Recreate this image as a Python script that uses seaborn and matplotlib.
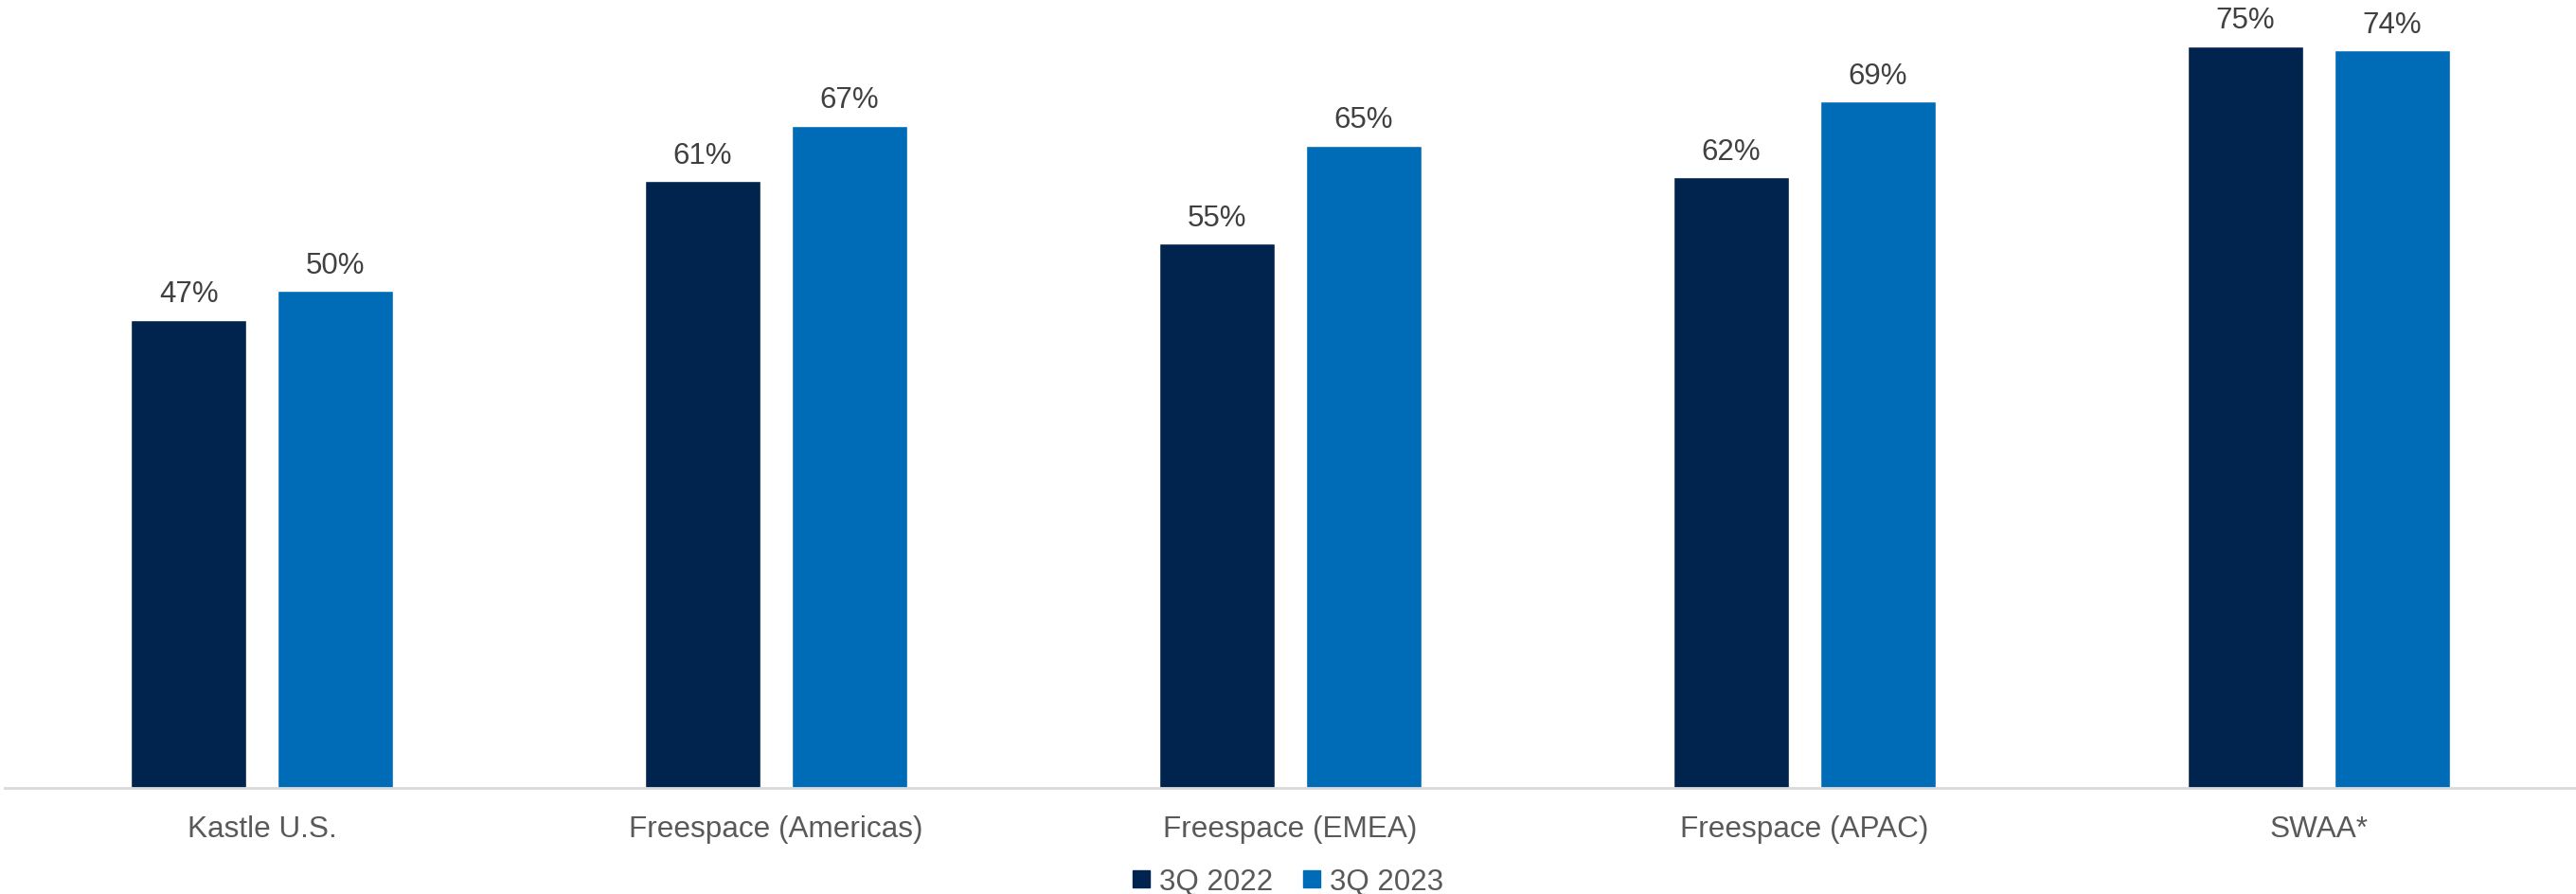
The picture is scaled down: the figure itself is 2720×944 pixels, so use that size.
import pandas as pd
import matplotlib
matplotlib.use("Agg")
import matplotlib.pyplot as plt
import seaborn as sns
from matplotlib.lines import Line2D

sns.set_theme(style='white')
plt.rcParams['font.family'] = ['Liberation Sans', 'DejaVu Sans']

categories = ["Kastle U.S.", "Freespace (Americas)", "Freespace (EMEA)",
              "Freespace (APAC)", "SWAA*"]
series_names = ["3Q 2022", "3Q 2023"]
# values (labels are rounded)
values_2022 = [47.2, 61.2, 54.9, 61.6, 74.8]
values_2023 = [50.1, 66.8, 64.8, 69.2, 74.4]
colors = ["#00244D", "#006BB6"]

df = pd.DataFrame({
    "category": categories * 2,
    "period": [series_names[0]] * len(categories) + [series_names[1]] * len(categories),
    "value": values_2022 + values_2023,
})

fig = plt.figure(figsize=(27.2, 9.45), dpi=100)
ax = fig.add_axes([5 / 2720, 1 - 833 / 945, 1 - 5 / 2720, 833 / 945])

sns.barplot(data=df, x="category", y="value", hue="period", palette=colors,
            width=0.57, gap=0.21, saturation=1, ax=ax, legend=False)

for c in ax.containers:
    ax.bar_label(c, fmt='%.0f%%', padding=9, fontsize=22.5, color="#404040")

ax.set_ylim(0, 79.56)
ax.set_xlim(-0.5, 4.5)
ax.set_xlabel("")
ax.set_ylabel("")
ax.set_yticks([])
ax.tick_params(axis='x', length=0, pad=20, labelsize=22.7, labelcolor="#595959")
for s in ["top", "right", "left"]:
    ax.spines[s].set_visible(False)
ax.spines["bottom"].set_color("#D9D9D9")
ax.spines["bottom"].set_linewidth(2)

handles = [Line2D([], [], marker='s', linestyle='none', markersize=12.5,
                  markerfacecolor=col, markeredgecolor=col) for col in colors]
fig.legend(handles, series_names, loc='center', bbox_to_anchor=(0.5, 1 - 932 / 945),
           ncol=2, frameon=False, fontsize=22.5, labelcolor="#595959",
           handlelength=0.6, handletextpad=0.3, columnspacing=1.0)

plt.savefig("out.png", dpi=100)
